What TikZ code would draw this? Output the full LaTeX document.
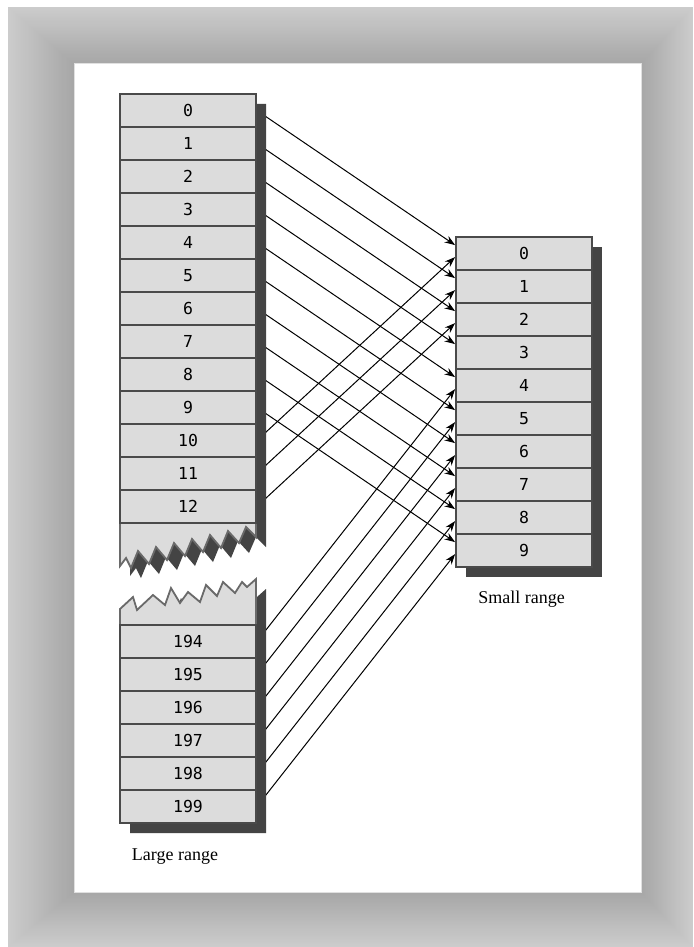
\documentclass[tikz,border=0pt]{standalone}
\usepackage{fontspec}
\setmainfont{Liberation Serif}
\newfontfamily\cellfont{DejaVu Sans Mono}
\usetikzlibrary{calc}
\usetikzlibrary{arrows.meta}
\tikzset{>={Stealth[length=10.5pt,width=7.5pt]}}
\usepackage[svgnames]{xcolor}
\definecolor{cellgray}{HTML}{DCDCDC}
\definecolor{shadowgray}{HTML}{444444}
\definecolor{edgegray}{HTML}{4A4A4A}
\definecolor{rimgray}{HTML}{6A6A6A}
\pgfdeclarelayer{bg}
\pgfdeclarelayer{front}
\pgfsetlayers{bg,main,front}
\tikzset{
  cell/.style={draw=edgegray, line width=1.8pt, fill=cellgray, minimum width=136pt,
    minimum height=33pt, inner sep=0pt, font=\cellfont\fontsize{16.5}{19}\selectfont},
  piece/.style={draw=rimgray, line width=1.8pt, fill=cellgray},
  shadowfill/.style={fill=shadowgray},
  link/.style={->, line width=1pt},
  caption/.style={font=\fontsize{18}{22}\selectfont}
}

\begin{document}
\begin{tikzpicture}[x=1pt, y=1pt]
  \useasboundingbox (0,0) rectangle (693,-947);

  % 背景框
  \begin{pgfonlayer}{bg}
    \foreach \k in {0,...,40} {
      \pgfmathsetmacro\t{\k/40}
      \pgfmathsetmacro\tone{20+15*\t}
      \fill[black!\tone] (8+66*\t,-7-57*\t) rectangle (693-52*\t,-947+55*\t);
    }
    \fill[white, draw=black!12, line width=1pt] (74,-64) rectangle (641,-892);
  \end{pgfonlayer}

  \begin{pgfonlayer}{front}
    % 阴影
    \fill[shadowfill, shift={(10,-10)}] (120,-94) -- (256,-94) -- (256,-537)
      -- (246,-527) -- (239,-543) -- (228,-531) -- (221,-548) -- (210,-535)
      -- (203,-552) -- (192,-539) -- (185,-556) -- (174,-543) -- (167,-560)
      -- (156,-547) -- (149,-564) -- (138,-551) -- (131,-568) -- (126,-558)
      -- (120,-566) -- cycle;
    \fill[shadowfill, shift={(10,-10)}] (120,-823) -- (120,-609) -- (133,-597)
      -- (137,-610) -- (153,-595) -- (165,-605) -- (171,-588) -- (180,-603)
      -- (188,-592) -- (200,-602) -- (206,-585) -- (217,-596) -- (223,-582)
      -- (235,-593) -- (242,-582) -- (247,-587) -- (256,-579) -- (256,-823) -- cycle;
    \fill[shadowfill] (466,-247) rectangle (602,-577);

    % 断开的长条
    \draw[piece] (120,-94) -- (256,-94) -- (256,-537)
      -- (246,-527) -- (239,-543) -- (228,-531) -- (221,-548) -- (210,-535)
      -- (203,-552) -- (192,-539) -- (185,-556) -- (174,-543) -- (167,-560)
      -- (156,-547) -- (149,-564) -- (138,-551) -- (131,-568) -- (126,-558)
      -- (120,-566) -- cycle;
    \draw[piece] (120,-823) -- (120,-609) -- (133,-597)
      -- (137,-610) -- (153,-595) -- (165,-605) -- (171,-588) -- (180,-603)
      -- (188,-592) -- (200,-602) -- (206,-585) -- (217,-596) -- (223,-582)
      -- (235,-593) -- (242,-582) -- (247,-587) -- (256,-579) -- (256,-823) -- cycle;

    % 大范围
    \node[cell] (l0)  at (188,-110.5) {0};
    \node[cell] (l1)  at (188,-143.5) {1};
    \node[cell] (l2)  at (188,-176.5) {2};
    \node[cell] (l3)  at (188,-209.5) {3};
    \node[cell] (l4)  at (188,-242.5) {4};
    \node[cell] (l5)  at (188,-275.5) {5};
    \node[cell] (l6)  at (188,-308.5) {6};
    \node[cell] (l7)  at (188,-341.5) {7};
    \node[cell] (l8)  at (188,-374.5) {8};
    \node[cell] (l9)  at (188,-407.5) {9};
    \node[cell] (l10) at (188,-440.5) {10};
    \node[cell] (l11) at (188,-473.5) {11};
    \node[cell] (l12) at (188,-506.5) {12};
    \node[cell] (l194) at (188,-641.5) {194};
    \node[cell] (l195) at (188,-674.5) {195};
    \node[cell] (l196) at (188,-707.5) {196};
    \node[cell] (l197) at (188,-740.5) {197};
    \node[cell] (l198) at (188,-773.5) {198};
    \node[cell] (l199) at (188,-806.5) {199};

    % 小范围
    \node[cell] (s0) at (524,-253.5) {0};
    \node[cell] (s1) at (524,-286.5) {1};
    \node[cell] (s2) at (524,-319.5) {2};
    \node[cell] (s3) at (524,-352.5) {3};
    \node[cell] (s4) at (524,-385.5) {4};
    \node[cell] (s5) at (524,-418.5) {5};
    \node[cell] (s6) at (524,-451.5) {6};
    \node[cell] (s7) at (524,-484.5) {7};
    \node[cell] (s8) at (524,-517.5) {8};
    \node[cell] (s9) at (524,-550.5) {9};

    % 标签
    \node[caption] (large) at (175,-857) {Large range};
    \node[caption] (small) at (521.5,-599) {Small range};
  \end{pgfonlayer}

  % 箭头
  \draw[link] (l0.east) -- ($(s0.north west)+(0,-9)$);
  \draw[link] (l1.east) -- ($(s1.north west)+(0,-9)$);
  \draw[link] (l2.east) -- ($(s2.north west)+(0,-9)$);
  \draw[link] (l3.east) -- ($(s3.north west)+(0,-9)$);
  \draw[link] (l4.east) -- ($(s4.north west)+(0,-9)$);
  \draw[link] (l5.east) -- ($(s5.north west)+(0,-9)$);
  \draw[link] (l6.east) -- ($(s6.north west)+(0,-9)$);
  \draw[link] (l7.east) -- ($(s7.north west)+(0,-9)$);
  \draw[link] (l8.east) -- ($(s8.north west)+(0,-9)$);
  \draw[link] (l9.east) -- ($(s9.north west)+(0,-9)$);
  \draw[link] (l10.east) -- ($(s0.north west)+(0,-21)$);
  \draw[link] (l11.east) -- ($(s1.north west)+(0,-21)$);
  \draw[link] (l12.east) -- ($(s2.north west)+(0,-21)$);
  \draw[link] (l194.east) -- ($(s4.north west)+(0,-21)$);
  \draw[link] (l195.east) -- ($(s5.north west)+(0,-21)$);
  \draw[link] (l196.east) -- ($(s6.north west)+(0,-21)$);
  \draw[link] (l197.east) -- ($(s7.north west)+(0,-21)$);
  \draw[link] (l198.east) -- ($(s8.north west)+(0,-21)$);
  \draw[link] (l199.east) -- ($(s9.north west)+(0,-21)$);
\end{tikzpicture}
\end{document}
